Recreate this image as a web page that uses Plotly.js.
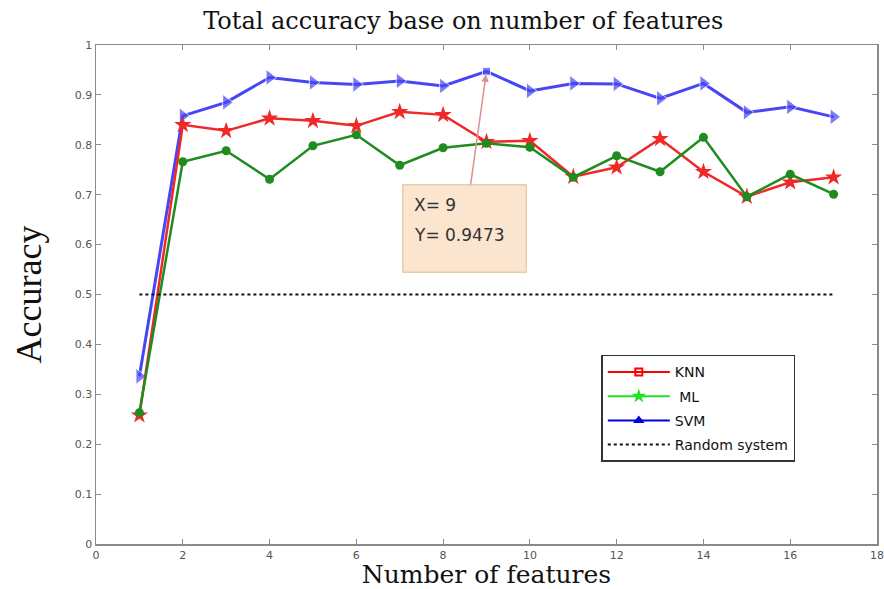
<!DOCTYPE html>
<html>
<head>
<meta charset="utf-8">
<script src="https://cdn.plot.ly/plotly-3.0.1.min.js"></script>
<style>html,body{margin:0;padding:0;background:#fff;}#chart{width:884px;height:589px;}</style>
</head>
<body>
<div id="chart"></div>
<script>
const features = [1,2,3,4,5,6,7,8,9,10,11,12,13,14,15,16,17];
const knn = [0.258,0.840,0.828,0.853,0.848,0.838,0.866,0.860,0.806,0.808,0.736,0.755,0.812,0.746,0.696,0.725,0.735];
const ml  = [0.263,0.766,0.788,0.731,0.798,0.820,0.759,0.794,0.803,0.795,0.735,0.778,0.746,0.815,0.696,0.741,0.701];
const svm = [0.336,0.858,0.885,0.935,0.925,0.921,0.928,0.918,0.9473,0.908,0.923,0.922,0.893,0.923,0.865,0.876,0.856];
const randomX = [1,17];
const randomY = [0.5,0.5];
const seriesNames = ['KNN','ML','SVM','Random system'];
const cursorX = 9, cursorY = 0.9473;
const xTicks = [0,2,4,6,8,10,12,14,16,18];
const yTicks = [0,0.1,0.2,0.3,0.4,0.5,0.6,0.7,0.8,0.9,1];

const svmSymbols = features.map(f => f === cursorX ? 'square' : 'triangle-right');
const svmSizes = features.map(f => f === cursorX ? 8 : 14);

const traces = [
  {x: features, y: svm, mode:'lines+markers', showlegend:false,
   line:{color:'#4646f5', width:3}, marker:{symbol:svmSymbols, size:svmSizes, color:'#4646f5'}},
  {x: features, y: knn, mode:'lines+markers', showlegend:false,
   line:{color:'#f02828', width:2.5}, marker:{symbol:'star', size:13, color:'#f02828'}},
  {x: features, y: ml, mode:'lines+markers', showlegend:false,
   line:{color:'#1e8c1e', width:2.5}, marker:{symbol:'circle', size:9, color:'#1e8c1e'}},
  {x: randomX, y: randomY, mode:'lines', showlegend:false,
   line:{color:'#111', width:2, dash:'dot'}},
  // legend entries
  {x:[null], y:[null], name:seriesNames[0], legendgroup:'a', mode:'lines+markers',
   line:{color:'#ff0000', width:2}, marker:{symbol:'square-open', size:7, color:'#ff0000', line:{width:2}}},
  {x:[null], y:[null], name:' ' + seriesNames[1], legendgroup:'b', mode:'lines+markers',
   line:{color:'#22e022', width:2}, marker:{symbol:'star', size:11, color:'#22e022'}},
  {x:[null], y:[null], name:seriesNames[2], legendgroup:'c', mode:'lines+markers',
   line:{color:'#0000dd', width:2}, marker:{symbol:'triangle-up', size:10, color:'#0000dd'}},
  {x:[null], y:[null], name:seriesNames[3], legendgroup:'d', mode:'lines',
   line:{color:'#111', width:2, dash:'dot'}}
];

const axisCommon = {
  showgrid:false, zeroline:false, showline:true, mirror:'ticks',
  linecolor:'#8a8a8a', linewidth:1.5, ticks:'inside', ticklen:5, tickcolor:'#8a8a8a',
  tickfont:{family:'DejaVu Sans, sans-serif', size:11, color:'#555'}
};

const labelFont = {family:'DejaVu Sans, sans-serif', size:17, color:'#333'};

const layout = {
  width:884, height:589,
  margin:{l:96, r:7, t:45, b:45},
  paper_bgcolor:'#fff', plot_bgcolor:'#fff',
  title:{text:'Total accuracy base on number of features', x:0.524, xanchor:'center', y:0.965, yanchor:'middle',
    font:{family:'DejaVu Serif, serif', size:24, color:'#111'}},
  xaxis:Object.assign({}, axisCommon, {range:[0,18], tickvals:xTicks, ticktext:xTicks.map(String),
    title:{text:'Number of features', standoff:7, font:{family:'DejaVu Serif, serif', size:25, color:'#111'}}}),
  yaxis:Object.assign({}, axisCommon, {range:[0,1], tickvals:yTicks, ticktext:yTicks.map(String),
    title:{text:'Accuracy', standoff:22, font:{family:'Liberation Serif, Times New Roman, serif', size:36, color:'#111'}}}),
  legend:{x:0.647, y:0.379, xanchor:'left', yanchor:'top', bgcolor:'#fff', bordercolor:'#333', borderwidth:1.5,
    font:{family:'DejaVu Sans, sans-serif', size:14, color:'#111'}, traceorder:'grouped', tracegroupgap:3,
    itemwidth:62},
  annotations:[{
    x:cursorX, y:cursorY, xref:'x', yref:'y', ax:-22, ay:157,
    text:' ', bgcolor:'#fce5cf', bordercolor:'#e6cdb0', borderwidth:1.5, borderpad:3, width:116, height:80,
    showarrow:true, arrowcolor:'#e08f8f', arrowwidth:1.5, arrowhead:2, arrowsize:1, standoff:3
  },{
    x:cursorX, y:cursorY, xref:'x', yref:'y', showarrow:false, xanchor:'left', yanchor:'middle',
    xshift:-75, yshift:-134, text:'X= ' + cursorX, font:labelFont
  },{
    x:cursorX, y:cursorY, xref:'x', yref:'y', showarrow:false, xanchor:'left', yanchor:'middle',
    xshift:-75, yshift:-164, text:'Y= ' + cursorY.toFixed(4), font:labelFont
  }]
};

Plotly.newPlot('chart', traces, layout, {displayModeBar:false, staticPlot:true});
</script>
</body>
</html>
